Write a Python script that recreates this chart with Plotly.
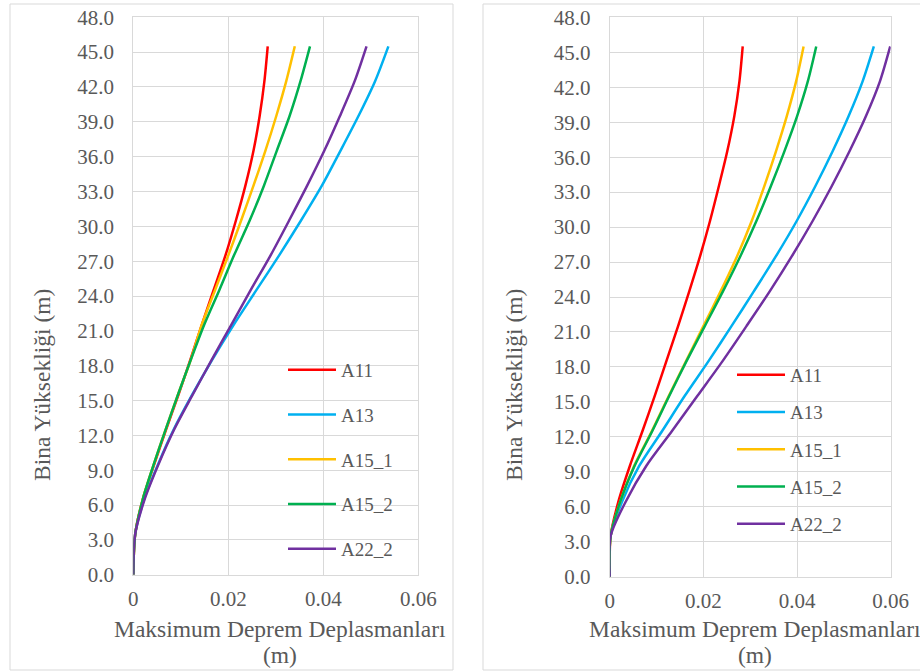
import plotly.graph_objects as go

# Storey heights (m)
heights = [0, 3.5, 6.5, 9.5, 12.5, 15.5, 18.5, 21.5, 24.5, 27.5, 30.5, 33.5, 36.5, 39.5, 42.5, 45.5]

series_names = ["A11", "A13", "A15_1", "A15_2", "A22_2"]
series_colors = ["#FF0000", "#00B0F0", "#FFC000", "#00B050", "#7030A0"]

# Left chart: maximum displacements (m)
left_A11 = [0, 0.0004, 0.0020, 0.0044, 0.0069, 0.0095, 0.0120, 0.0144, 0.0169, 0.0194, 0.0216, 0.0236, 0.0253, 0.0266, 0.0276, 0.0283]
left_A13 = [0, 0.0004, 0.0023, 0.0052, 0.0085, 0.0124, 0.0166, 0.0211, 0.0259, 0.0307, 0.0353, 0.0397, 0.0436, 0.0474, 0.0509, 0.0537]
left_A15_1 = [0, 0.0004, 0.0020, 0.0043, 0.0068, 0.0094, 0.0121, 0.0144, 0.0172, 0.0200, 0.0227, 0.0253, 0.0278, 0.0301, 0.0322, 0.0340]
left_A15_2 = [0, 0.0004, 0.0020, 0.0043, 0.0068, 0.0094, 0.0121, 0.0149, 0.0181, 0.0212, 0.0245, 0.0275, 0.0302, 0.0329, 0.0352, 0.0372]
left_A22_2 = [0, 0.0004, 0.0024, 0.0053, 0.0086, 0.0125, 0.0165, 0.0206, 0.0247, 0.0289, 0.0328, 0.0366, 0.0402, 0.0435, 0.0466, 0.0491]

# Right chart: maximum displacements (m)
right_A11 = [0, 0.0002, 0.0019, 0.0043, 0.0070, 0.0096, 0.0121, 0.0146, 0.0170, 0.0193, 0.0214, 0.0233, 0.0251, 0.0266, 0.0277, 0.0284]
right_A13 = [0, 0.0002, 0.0027, 0.0063, 0.0112, 0.0160, 0.0211, 0.0260, 0.0308, 0.0355, 0.0399, 0.0439, 0.0476, 0.0510, 0.0540, 0.0564]
right_A15_1 = [0, 0.0002, 0.0023, 0.0052, 0.0090, 0.0126, 0.0163, 0.0200, 0.0237, 0.0272, 0.0303, 0.0330, 0.0355, 0.0378, 0.0398, 0.0414]
right_A15_2 = [0, 0.0002, 0.0023, 0.0053, 0.0091, 0.0127, 0.0164, 0.0203, 0.0242, 0.0279, 0.0313, 0.0344, 0.0373, 0.0400, 0.0423, 0.0441]
right_A22_2 = [0, 0.0002, 0.0035, 0.0078, 0.0133, 0.0187, 0.0241, 0.0292, 0.0342, 0.0389, 0.0433, 0.0474, 0.0512, 0.0547, 0.0577, 0.0599]

left_series = [left_A11, left_A13, left_A15_1, left_A15_2, left_A22_2]
right_series = [right_A11, right_A13, right_A15_1, right_A15_2, right_A22_2]

x_title_line1 = "Maksimum Deprem Deplasmanları"
x_title_line2 = "(m)"
y_title = "Bina Yüksekliği (m)"

FONT = "Liberation Serif, Times New Roman, serif"
TXT = "#595959"
GRID = "#D9D9D9"
W, H = 920, 672
TICK_SIZE = 21
TITLE_SIZE = 23.5
LEGEND_SIZE = 19

fig = go.Figure()
for vals, name, col in zip(left_series, series_names, series_colors):
    fig.add_trace(go.Scatter(x=vals, y=heights, name=name, mode="lines",
                             line=dict(color=col, width=2.5, shape="spline", smoothing=0.8),
                             xaxis="x", yaxis="y", legend="legend", legendgroup="L" + name))
for vals, name, col in zip(right_series, series_names, series_colors):
    fig.add_trace(go.Scatter(x=vals, y=heights, name=name, mode="lines",
                             line=dict(color=col, width=2.5, shape="spline", smoothing=0.8),
                             xaxis="x2", yaxis="y2", legend="legend2", legendgroup="R" + name))

def px_x(p):
    return p / W

def px_y(p):
    return 1 - p / H

axis_common = dict(showgrid=True, gridcolor=GRID, gridwidth=1, zeroline=False,
                   showline=True, linecolor=GRID, linewidth=1, mirror=True,
                   ticks="", automargin=False,
                   tickfont=dict(family=FONT, size=TICK_SIZE, color=TXT))
xcommon = dict(axis_common, range=[0, 0.06], dtick=0.02, tick0=0, ticklabelstandoff=5)
ycommon = dict(axis_common, range=[0, 48], dtick=3, tick0=0, tickformat=".1f", ticklabelstandoff=14)

fig.update_layout(
    width=W, height=H,
    margin=dict(l=0, r=0, t=0, b=0, pad=0, autoexpand=False),
    paper_bgcolor="white", plot_bgcolor="white",
    font=dict(family=FONT, color=TXT, size=LEGEND_SIZE),
    xaxis=dict(xcommon, domain=[px_x(133.3), px_x(418.3)], anchor="y"),
    yaxis=dict(ycommon, domain=[px_y(574.7), px_y(17.3)], anchor="x"),
    xaxis2=dict(xcommon, domain=[px_x(609.7), px_x(890.7)], anchor="y2"),
    yaxis2=dict(ycommon, domain=[px_y(576.7), px_y(17.3)], anchor="x2"),
    legend=dict(x=px_x(283), y=px_y(351), xanchor="left", yanchor="top",
                bgcolor="rgba(0,0,0,0)", borderwidth=0, itemwidth=48,
                tracegroupgap=17, traceorder="grouped",
                font=dict(family=FONT, size=LEGEND_SIZE, color=TXT)),
    legend2=dict(x=px_x(732), y=px_y(356), xanchor="left", yanchor="top",
                 bgcolor="rgba(0,0,0,0)", borderwidth=0, itemwidth=48,
                 tracegroupgap=9.5, traceorder="grouped",
                 font=dict(family=FONT, size=LEGEND_SIZE, color=TXT)),
    showlegend=True,
)

# Chart area borders
fig.add_shape(type="rect", xref="paper", yref="paper",
              x0=px_x(10), x1=px_x(453), y0=px_y(670), y1=px_y(4),
              line=dict(color=GRID, width=1), fillcolor="rgba(0,0,0,0)", layer="below")
fig.add_shape(type="rect", xref="paper", yref="paper",
              x0=px_x(483), x1=px_x(930), y0=px_y(670), y1=px_y(4),
              line=dict(color=GRID, width=1), fillcolor="rgba(0,0,0,0)", layer="below")

# Axis titles
for cx, ty_x in [(280, 42), (755, 514)]:
    fig.add_annotation(text=x_title_line1, xref="paper", yref="paper",
                       x=px_x(cx), y=px_y(629), xanchor="center", yanchor="middle",
                       showarrow=False, font=dict(family=FONT, size=TITLE_SIZE, color=TXT))
    fig.add_annotation(text=x_title_line2, xref="paper", yref="paper",
                       x=px_x(cx), y=px_y(655), xanchor="center", yanchor="middle",
                       showarrow=False, font=dict(family=FONT, size=TITLE_SIZE, color=TXT))
    fig.add_annotation(text=y_title, xref="paper", yref="paper", textangle=-90,
                       x=px_x(ty_x), y=px_y(385), xanchor="center", yanchor="middle",
                       showarrow=False, font=dict(family=FONT, size=TITLE_SIZE, color=TXT))

fig.write_html("out.html", config={"displayModeBar": False},
               post_script="document.body.style.margin='0px';")
